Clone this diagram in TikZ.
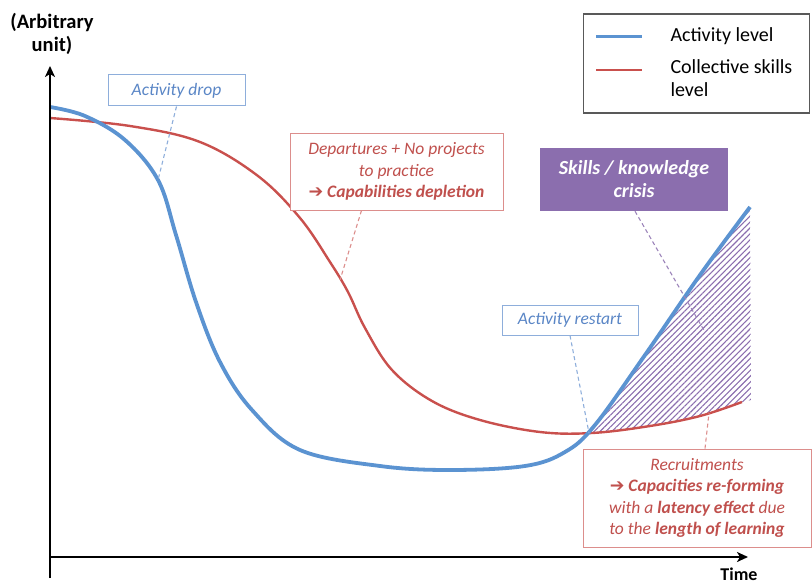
\documentclass[tikz,border=0pt]{standalone}
\usepackage{fontspec}
\setmainfont{Carlito}
\newfontfamily\symfont{DejaVu Sans}
\usetikzlibrary{arrows.meta,patterns.meta}
\definecolor{actblue}{HTML}{5B93D1}
\definecolor{skred}{HTML}{C9504D}
\definecolor{boxblue}{HTML}{8EAEDB}
\definecolor{boxred}{HTML}{DC8E8C}
\definecolor{txtblue}{HTML}{5A86C6}
\definecolor{txtred}{HTML}{C0504D}
\definecolor{crispurple}{HTML}{8B6EAE}
\newcommand{\arr}{{\symfont\bfseries ➔}}
\tikzset{
  bluebox/.style={draw=boxblue,line width=1pt,fill=white,text=txtblue,font=\itshape\fontsize{17.5}{21}\selectfont,align=center,inner sep=0pt},
  redbox/.style={draw=boxred,line width=1pt,fill=white,text=txtred,font=\itshape\fontsize{17.5}{21.5}\selectfont,align=center,inner sep=0pt},
  lead/.style={dashed,dash pattern=on 4pt off 3pt,line width=1.1pt},
  axis/.style={line width=2.6pt,-{Stealth[length=11pt,width=10pt,inset=3pt]}}
}
\begin{document}
\begin{tikzpicture}[x=1pt,y=-1pt]
\useasboundingbox (0,0) rectangle (812,586);
% curves
\def\bluepath{plot[smooth,tension=0.6] coordinates {(50,107) (85,116) (125,140) (158,180) (176,235) (196,302) (220,362) (252,410) (300,450) (380,466) (450,470) (525,466) (565,452) (595,425) (645,355) (700,275) (750,207)}}
\def\redpath{plot[smooth,tension=0.6] coordinates {(50,118) (130,126) (200,142) (258,176) (300,218) (330,262) (348,292) (365,328) (392,370) (432,401) (480,420) (540,432) (592,433) (650,426) (700,416) (742,402)}}
% hatch
\begin{scope}
  \clip \bluepath -- (752,600) -- (50,600) -- cycle;
  \clip \redpath -- (760,398) -- (760,0) -- (50,0) -- cycle;
  \fill[pattern={Lines[angle=45,distance=4.2pt,line width=1.1pt]},pattern color=crispurple] (560,190) rectangle (753,445);
\end{scope}
\draw[skred,line width=2.4pt] \redpath;
\draw[actblue,line width=3.8pt] \bluepath;
% curve anchor coordinates
\coordinate (pdrop) at (158,180);
\coordinate (pdep) at (340,280);
\coordinate (prest) at (589,433);
\coordinate (pcris) at (705,332);
\coordinate (precr) at (709,413);
% axes
\coordinate (o) at (50,557);
\coordinate (ytop) at (50,66);
\coordinate (xend) at (748,557);
\draw[axis] (50,578) -- (ytop);
\draw[axis] (o) -- (xend);
\node[font=\bfseries\fontsize{20.5}{23}\selectfont,align=center] (ylab) at (52,34) {(Arbitrary\\unit)};
\node[font=\bfseries\fontsize{18}{20}\selectfont] (xlab) at (739,574) {Time};
% legend
\node[draw=black!65,line width=1.2pt,minimum width=226pt,minimum height=99pt,inner sep=0pt] (leg) at (696.5,63.5) {};
\coordinate (l1a) at (596,37); \coordinate (l1b) at (642,37);
\coordinate (l2a) at (596,70); \coordinate (l2b) at (642,70);
\draw[actblue,line width=3pt] (l1a) -- (l1b);
\draw[skred,line width=2.2pt] (l2a) -- (l2b);
\node[anchor=west,font=\fontsize{20}{23}\selectfont] (legt1) at (667,36) {Activity level};
\node[anchor=north west,font=\fontsize{20}{23}\selectfont,align=left] (legt2) at (667,56) {Collective skills\\level};
% boxes
\node[bluebox,minimum width=137pt,minimum height=31pt] (drop) at (176.5,90.5) {Activity drop};
\node[redbox,minimum width=213pt,minimum height=77pt] (dep) at (396.5,171.5) {Departures + No projects\\to practice\\\arr\ \textbf{Capabilities depletion}};
\node[fill=crispurple,text=white,font=\bfseries\itshape\fontsize{20}{23}\selectfont,align=center,minimum width=188pt,minimum height=63pt,inner sep=0pt] (cris) at (634,179.5) {Skills / knowledge\\crisis};
\node[bluebox,minimum width=136pt,minimum height=30pt] (rest) at (570,320) {Activity restart};
\node[redbox,minimum width=228pt,minimum height=98pt] (recr) at (697,498) {Recruitments\\\arr\ \textbf{Capacities re-forming}\\with a \textbf{latency effect} due\\to the \textbf{length of learning}};
% leaders
\draw[lead,boxblue] (drop.south) -- (pdrop);
\draw[lead,boxred] ([xshift=-35pt]dep.south) -- (pdep);
\draw[lead,crispurple!85] ([xshift=1pt]cris.south) -- (pcris);
\draw[lead,boxblue] (rest.south) -- (prest);
\draw[lead,boxred] ([xshift=8pt]recr.north) -- (precr);
\end{tikzpicture}
\end{document}
